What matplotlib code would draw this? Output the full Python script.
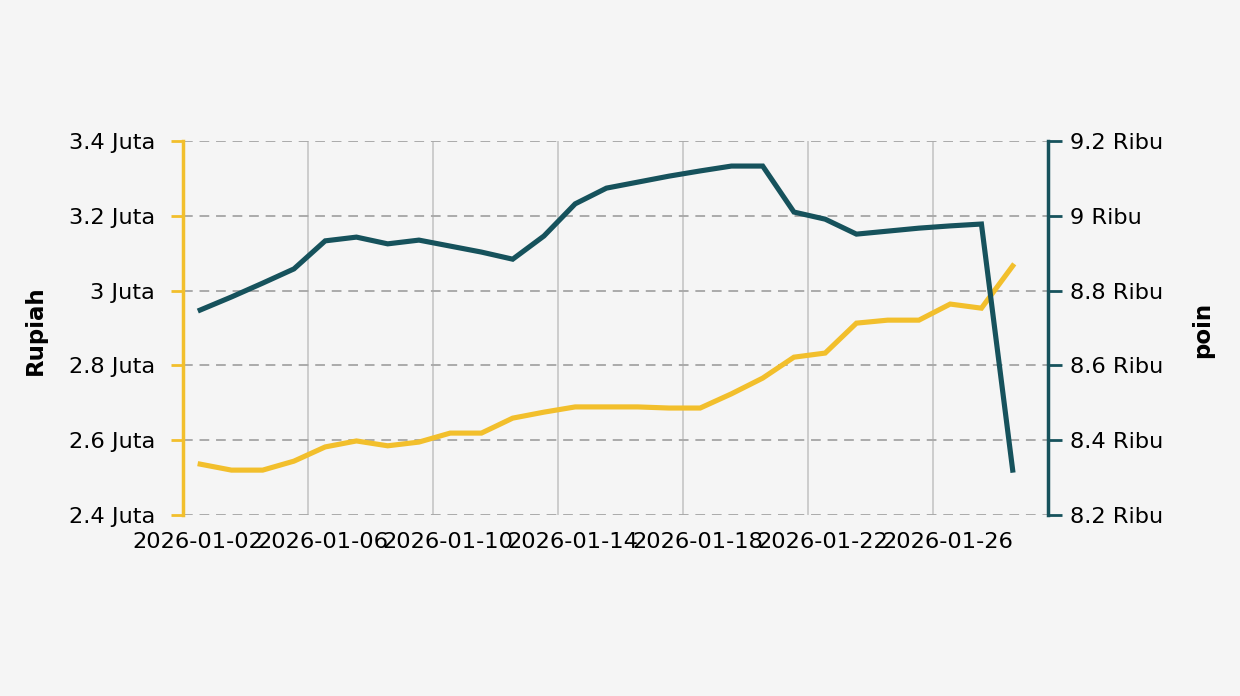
import matplotlib
matplotlib.use("Agg")
import matplotlib.pyplot as plt
import matplotlib.dates as mdates
import pandas as pd
import numpy as np

dates = ["2026-01-02", "2026-01-03", "2026-01-04", "2026-01-05", "2026-01-06",
         "2026-01-07", "2026-01-08", "2026-01-09", "2026-01-10", "2026-01-11",
         "2026-01-12", "2026-01-13", "2026-01-14", "2026-01-15", "2026-01-16",
         "2026-01-17", "2026-01-18", "2026-01-19", "2026-01-20", "2026-01-21",
         "2026-01-22", "2026-01-23", "2026-01-24", "2026-01-25", "2026-01-26",
         "2026-01-27", "2026-01-28"]

rupiah = [2.536, 2.520, 2.520, 2.544, 2.582, 2.598, 2.585, 2.595, 2.619, 2.619,
          2.659, 2.675, 2.689, 2.689, 2.689, 2.686, 2.686, 2.724, 2.766, 2.822,
          2.833, 2.913, 2.921, 2.921, 2.964, 2.953, 3.066]  # Juta

poin = [8.748, 8.783, 8.820, 8.858, 8.933, 8.943, 8.925, 8.935, 8.919, 8.903,
        8.884, 8.946, 9.032, 9.074, 9.090, 9.106, 9.120, 9.133, 9.133, 9.010,
        8.991, 8.951, 8.959, 8.967, 8.973, 8.978, 8.320]  # Ribu

tick_dates = ["2026-01-02", "2026-01-06", "2026-01-10", "2026-01-14",
              "2026-01-18", "2026-01-22", "2026-01-26"]

left_ticks = [2.4, 2.6, 2.8, 3.0, 3.2, 3.4]
left_labels = ["2.4 Juta", "2.6 Juta", "2.8 Juta", "3 Juta", "3.2 Juta", "3.4 Juta"]
right_ticks = [8.2, 8.4, 8.6, 8.8, 9.0, 9.2]
right_labels = ["8.2 Ribu", "8.4 Ribu", "8.6 Ribu", "8.8 Ribu", "9 Ribu", "9.2 Ribu"]

YELLOW = "#f2bf2c"
TEAL = "#16525c"
BG = "#f5f5f5"
FS = 16.2

plt.rcParams['font.family'] = ['DejaVu Sans']

fig = plt.figure(figsize=(12.4, 6.96), dpi=100, facecolor=BG)
ax = fig.add_axes([183/1240, 1-515/696, (1048-183)/1240, (515-141)/696])
ax.set_facecolor(BG)
ax2 = ax.twinx()

x = mdates.date2num(pd.to_datetime(dates)) + 0.55
x_grid = mdates.date2num(pd.to_datetime(tick_dates))
x0 = mdates.date2num(pd.Timestamp(dates[0]))

ax.plot(x, rupiah, color=YELLOW, lw=3.7, solid_joinstyle="miter", zorder=3)
ax2.plot(x, poin, color=TEAL, lw=3.7, solid_joinstyle="miter", zorder=3)

ax.set_xlim(x0, x0 + 27.68)
ax.set_ylim(2.4, 3.4)
ax2.set_ylim(8.2, 9.2)

# x axis: gridlines at midnight, labels slightly shifted
ax.set_xticks(x_grid)
ax.set_xticklabels([""] * len(x_grid))
ax.set_xticks(x_grid + 0.48, minor=True)
ax.set_xticklabels(tick_dates, minor=True, fontsize=FS)
ax.tick_params(axis="x", which="both", length=0, pad=12)
ax.xaxis.grid(True, which="major", color="#cccccc", lw=1.4, ls="-")

ax.set_yticks(left_ticks)
ax.set_yticklabels(left_labels, fontsize=FS)
ax.tick_params(axis="y", length=9, width=2, color=YELLOW, pad=11)
ax.yaxis.grid(True, color="#aaaaaa", lw=1.4, ls=(0, (5, 3.5)))
ax.set_axisbelow(True)

ax2.set_yticks(right_ticks)
ax2.set_yticklabels(right_labels, fontsize=FS)
ax2.tick_params(axis="y", length=10, width=2, color=TEAL, pad=6)

for a in (ax, ax2):
    for s in ("top", "bottom"):
        a.spines[s].set_visible(False)
ax.spines["right"].set_visible(False)
ax2.spines["left"].set_visible(False)
ax.spines["left"].set_color(YELLOW)
ax.spines["left"].set_linewidth(2.5)
ax2.spines["right"].set_color(TEAL)
ax2.spines["right"].set_linewidth(2.5)

fig.text(35/1240, 1-330/696, "Rupiah", rotation=90, fontsize=16.5, fontweight="bold",
         ha="center", va="center")
fig.text(1203/1240, 1-330/696, "poin", rotation=90, fontsize=16.5, fontweight="bold",
         ha="center", va="center")

fig.savefig("out.png", dpi=100, facecolor=BG)
